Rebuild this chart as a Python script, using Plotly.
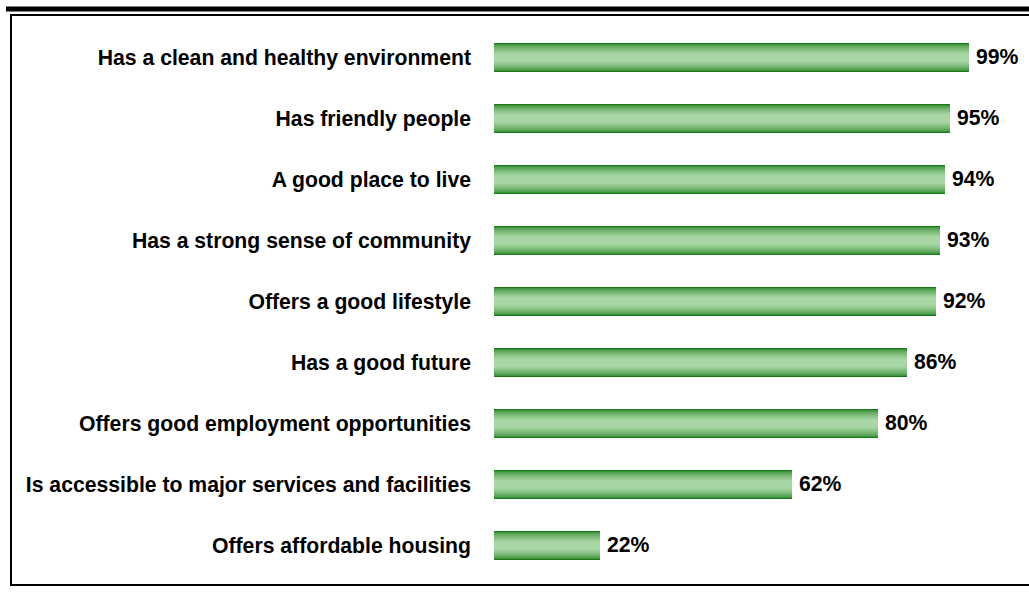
import plotly.graph_objects as go

# Survey results: share of respondents agreeing with each statement
statements = [
    "Has a clean and healthy environment",
    "Has friendly people",
    "A good place to live",
    "Has a strong sense of community",
    "Offers a good lifestyle",
    "Has a good future",
    "Offers good employment opportunities",
    "Is accessible to major services and facilities",
    "Offers affordable housing",
]
agree_pct = [99, 95, 94, 93, 92, 86, 80, 62, 22]
value_labels = ["99%", "95%", "94%", "93%", "92%", "86%", "80%", "62%", "22%"]

FIG_W, FIG_H = 1029, 592
M_L, M_R, M_T, M_B = 494, 55, 27, 16
PLOT_W = FIG_W - M_L - M_R
PLOT_H = FIG_H - M_T - M_B

FONT = "Liberation Sans, Arial, sans-serif"
FONT_SIZE = 21.2
BAR_W = 0.49

# colour ramp from the dark edge to the light centre of each bar
DARK = (22, 122, 22)
LIGHT = (168, 214, 164)
N_LAYERS = 14


def mix(t):
    r, g, b = (round(d + (l - d) * t) for d, l in zip(DARK, LIGHT))
    return f"rgb({r},{g},{b})"


fig = go.Figure()
for k in range(N_LAYERS):
    frac = k / N_LAYERS
    t = min(1.0, (frac / 0.75) ** 0.55)
    fig.add_trace(go.Bar(
        x=agree_pct,
        y=statements,
        orientation="h",
        width=BAR_W * (1 - frac),
        marker=dict(color=mix(t), line=dict(width=0)),
        hoverinfo="skip" if k else "x+y",
        showlegend=False,
    ))

# value labels to the right of each bar
for s, v, lab in zip(statements, agree_pct, value_labels):
    fig.add_annotation(
        x=v, y=s, text=f"<b>{lab}</b>", showarrow=False,
        xanchor="left", yanchor="middle", xshift=5, yshift=1,
        font=dict(family=FONT, size=FONT_SIZE, color="black"),
    )


def px_x(px):
    return (px - M_L) / PLOT_W


def px_y(py):
    return (FIG_H - M_B - py) / PLOT_H


def hline(x0, x1, y, w):
    return dict(type="line", xref="paper", yref="paper",
                x0=px_x(x0), x1=px_x(x1), y0=px_y(y), y1=px_y(y),
                line=dict(color="black", width=w))


shapes = [
    hline(6, FIG_W + 5, 9, 5),      # heavy rule along the top
    hline(10, FIG_W + 5, 15, 2),    # thin rule under it
    hline(10, FIG_W + 5, 585, 2),   # bottom border
    dict(type="line", xref="paper", yref="paper",
         x0=px_x(11), x1=px_x(11), y0=px_y(14), y1=px_y(586),
         line=dict(color="black", width=2)),
]

fig.update_layout(
    width=FIG_W, height=FIG_H,
    margin=dict(l=M_L, r=M_R, t=M_T, b=M_B, pad=0),
    paper_bgcolor="white", plot_bgcolor="white",
    barmode="overlay", bargap=0,
    shapes=shapes,
    xaxis=dict(range=[0, 100], visible=False, fixedrange=True),
    yaxis=dict(
        categoryorder="array", categoryarray=statements[::-1],
        range=[-0.5, len(statements) - 0.5],
        showgrid=False, zeroline=False, showline=False,
        ticks="", ticklabelstandoff=22,
        tickfont=dict(family=FONT, size=FONT_SIZE, color="black", weight="bold"),
        fixedrange=True,
    ),
)

fig.write_html("out.html")
